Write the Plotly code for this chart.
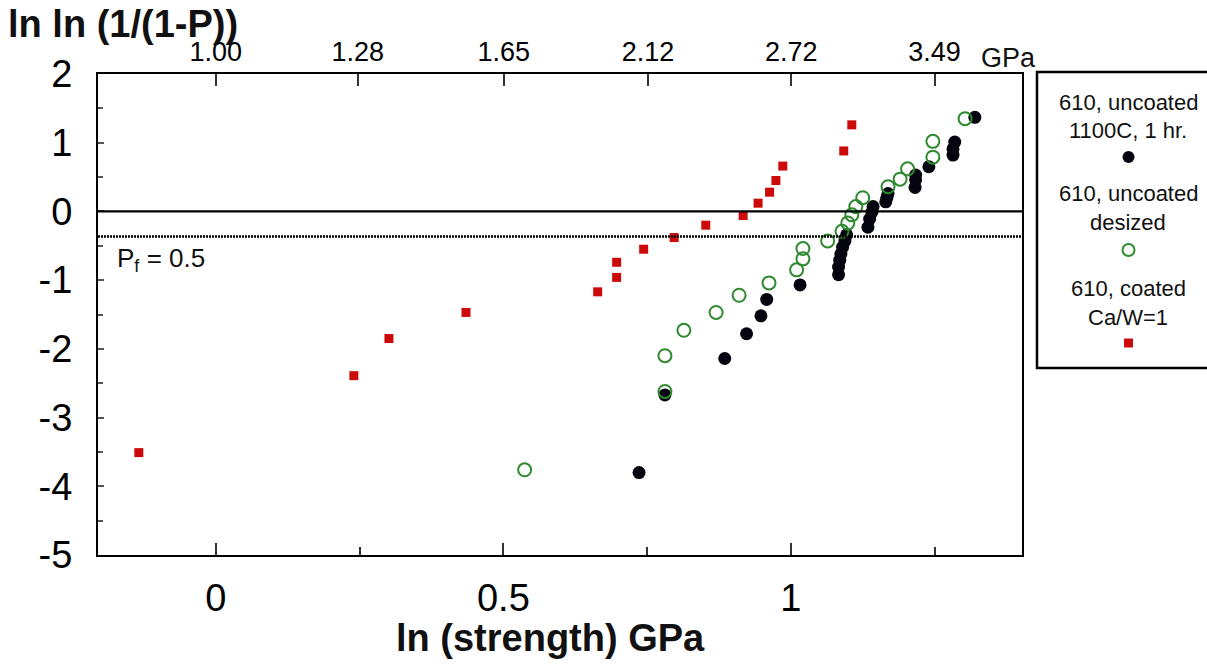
import math
import plotly.graph_objects as go

# ---------------- data ----------------
# 610, uncoated 1100C, 1 hr.  (filled black circles)
heat_x = [0.736, 0.781, 0.885, 0.923, 0.948, 0.958, 1.016, 1.083, 1.083, 1.085,
          1.087, 1.090, 1.094, 1.097, 1.134, 1.137, 1.141, 1.143, 1.165, 1.167,
          1.169, 1.216, 1.217, 1.217, 1.240, 1.282, 1.282, 1.285, 1.320]
heat_y = [-3.80, -2.67, -2.14, -1.78, -1.52, -1.28, -1.07, -0.92, -0.81, -0.71,
          -0.62, -0.52, -0.43, -0.34, -0.23, -0.11, -0.01, 0.07, 0.14, 0.20,
          0.26, 0.35, 0.46, 0.53, 0.65, 0.82, 0.91, 1.01, 1.37]

# 610, uncoated desized  (open green circles)
desized_x = [0.537, 0.781, 0.781, 0.814, 0.870, 0.910, 0.962, 1.010, 1.021, 1.021,
             1.064, 1.089, 1.099, 1.106, 1.113, 1.125, 1.169, 1.190, 1.203, 1.247,
             1.247, 1.303]
desized_y = [-3.76, -2.62, -2.10, -1.73, -1.47, -1.22, -1.04, -0.85, -0.69, -0.54,
             -0.43, -0.29, -0.17, -0.05, 0.07, 0.20, 0.36, 0.47, 0.62, 0.79,
             1.02, 1.35]

# 610, coated Ca/W=1  (red squares)
coated_x = [-0.134, 0.240, 0.301, 0.435, 0.664, 0.697, 0.697, 0.744, 0.797, 0.852,
            0.917, 0.943, 0.963, 0.974, 0.986, 1.092, 1.106]
coated_y = [-3.51, -2.39, -1.85, -1.47, -1.17, -0.96, -0.74, -0.55, -0.38, -0.20,
            -0.06, 0.12, 0.28, 0.45, 0.66, 0.88, 1.26]

bottom_ticks = [0, 0.5, 1]
bottom_minor = [0, 0.25, 0.5, 0.75, 1.0, 1.25]
top_tick_labels = ["1.00", "1.28", "1.65", "2.12", "2.72", "3.49"]
y_ticks = [2, 1, 0, -1, -2, -3, -4, -5]

legend_names = [["610, uncoated", "1100C, 1 hr."],
                ["610, uncoated", "desized"],
                ["610, coated", "Ca/W=1"]]

# reference probabilities for horizontal lines
p_solid = 1 - 1 / math.e
p_half = 0.5

# ---------------- styling ----------------
FONT = "Arial, Liberation Sans, Helvetica, sans-serif"
BLACK = "#05050f"
GREEN = "#2f8a2f"
RED = "#cc0a0a"

W, H = 1207, 664
L, T, B = 98, 74, 109
plot_right = 1022
paper_w = W - L
main_dom = (plot_right - L) / paper_w


def px_x(px):
    return (px - L) / paper_w


def px_y(py):
    return (H - B - py) / (H - T - B)


fig = go.Figure()

fig.add_trace(go.Scatter(x=heat_x, y=heat_y, mode="markers",
                         marker=dict(symbol="circle", size=13, color=BLACK),
                         showlegend=False, cliponaxis=False))
fig.add_trace(go.Scatter(x=desized_x, y=desized_y, mode="markers",
                         marker=dict(symbol="circle-open", size=13, color=GREEN,
                                     line=dict(width=2, color=GREEN)),
                         showlegend=False, cliponaxis=False))
fig.add_trace(go.Scatter(x=coated_x, y=coated_y, mode="markers",
                         marker=dict(symbol="square", size=9, color=RED),
                         showlegend=False, cliponaxis=False))

# invisible trace to activate top axis
fig.add_trace(go.Scatter(x=[None], y=[None], xaxis="x2", yaxis="y",
                         showlegend=False, hoverinfo="skip"))

# custom legend markers on their own axes (in the right margin area)
leg_rows_y = [px_y(157), px_y(250), px_y(343)]
leg_cx = 0.53
fig.add_trace(go.Scatter(x=[leg_cx], y=[leg_rows_y[0]], xaxis="x3", yaxis="y3",
                         mode="markers", marker=dict(symbol="circle", size=12, color=BLACK),
                         showlegend=False, cliponaxis=False))
fig.add_trace(go.Scatter(x=[leg_cx], y=[leg_rows_y[1]], xaxis="x3", yaxis="y3",
                         mode="markers",
                         marker=dict(symbol="circle-open", size=12, color=GREEN,
                                     line=dict(width=2, color=GREEN)),
                         showlegend=False, cliponaxis=False))
fig.add_trace(go.Scatter(x=[leg_cx], y=[leg_rows_y[2]], xaxis="x3", yaxis="y3",
                         mode="markers", marker=dict(symbol="square", size=9, color=RED),
                         showlegend=False, cliponaxis=False))

xr = [-0.205, 1.402]

fig.update_layout(
    width=W, height=H,
    margin=dict(l=L, r=0, t=T, b=B),
    paper_bgcolor="white", plot_bgcolor="white",
    font=dict(family=FONT, color="black"),
    showlegend=False,
    xaxis=dict(domain=[0, main_dom], range=xr, showgrid=False, zeroline=False,
               showline=True, linecolor="black", linewidth=2,
               tickvals=bottom_ticks, ticktext=["0", "0.5", "1"],
               ticks="inside", ticklen=12, tickwidth=1.5, tickcolor="#333",
               minor=dict(tickvals=bottom_minor, ticks="inside", ticklen=8,
                          tickwidth=1.5, tickcolor="#333"),
               tickfont=dict(size=38, family=FONT), ticklabelstandoff=8),
    xaxis2=dict(overlaying="x", side="top", anchor="y", range=xr,
                showgrid=False, zeroline=False, showline=True,
                linecolor="black", linewidth=2,
                tickvals=[math.log(float(t)) for t in top_tick_labels],
                ticktext=top_tick_labels,
                ticks="inside", ticklen=12, tickwidth=1.5, tickcolor="#333",
                tickfont=dict(size=27, family=FONT), ticklabelstandoff=0),
    yaxis=dict(domain=[0, 1], range=[-5, 2], showgrid=False, zeroline=False,
               showline=True, linecolor="black", linewidth=2, mirror=True,
               tickvals=y_ticks, ticktext=[str(v) for v in y_ticks],
               ticks="inside", ticklen=6, tickwidth=1.5, tickcolor="#555",
               minor=dict(dtick=0.5, ticks="inside", ticklen=5, tickwidth=1.5,
                          tickcolor="#555"),
               tickfont=dict(size=38, family=FONT), ticklabelstandoff=16),
    xaxis3=dict(domain=[px_x(1040), 1.0], range=[0, 1], visible=False,
                anchor="y3", fixedrange=True),
    yaxis3=dict(domain=[0, 1], range=[0, 1], visible=False, anchor="x3",
                fixedrange=True),
)

# horizontal reference lines
fig.add_shape(type="line", xref="x domain", yref="y", x0=0, x1=1,
              y0=math.log(math.log(1 / (1 - p_solid))),
              y1=math.log(math.log(1 / (1 - p_solid))),
              line=dict(color="black", width=2.2))
fig.add_shape(type="line", xref="x domain", yref="y", x0=0, x1=1,
              y0=math.log(math.log(1 / (1 - p_half))),
              y1=math.log(math.log(1 / (1 - p_half))),
              line=dict(color="black", width=2.5, dash="2px,1px"))

# legend box
fig.add_shape(type="rect", xref="paper", yref="paper",
              x0=px_x(1037), x1=px_x(1212), y0=px_y(368), y1=px_y(72),
              line=dict(color="black", width=2.5), fillcolor="rgba(0,0,0,0)")

# legend texts
leg_text_y = [(103, 130), (193, 223), (288, 317)]
for names, ys in zip(legend_names, leg_text_y):
    for txt, yy in zip(names, ys):
        fig.add_annotation(text=txt, xref="paper", yref="paper",
                           x=px_x(1128), y=px_y(yy), xanchor="center",
                           yanchor="middle", showarrow=False,
                           font=dict(size=22, family=FONT, color="#111"))

# axis titles
fig.add_annotation(text="<b>ln ln (1/(1-P))</b>", xref="paper", yref="paper",
                   x=px_x(6), y=px_y(24), xanchor="left", yanchor="middle",
                   showarrow=False, font=dict(size=38, family=FONT, color="#111"))
fig.add_annotation(text="<b>ln (strength) GPa</b>", xref="paper", yref="paper",
                   x=px_x(550), y=px_y(638), xanchor="center", yanchor="middle",
                   showarrow=False, font=dict(size=38, family=FONT, color="#111"))
fig.add_annotation(text="GPa", xref="paper", yref="paper",
                   x=px_x(979), y=px_y(58), xanchor="left", yanchor="middle",
                   showarrow=False, font=dict(size=27, family=FONT, color="#111"))
fig.add_annotation(text="P<sub>f</sub> = 0.5", xref="x", yref="y",
                   x=-0.175, y=-0.70, xanchor="left", yanchor="middle",
                   showarrow=False, font=dict(size=26, family=FONT, color="#111"))

fig.write_html("out.html", config={"displayModeBar": False},
               post_script="document.body.style.margin='0px';")
